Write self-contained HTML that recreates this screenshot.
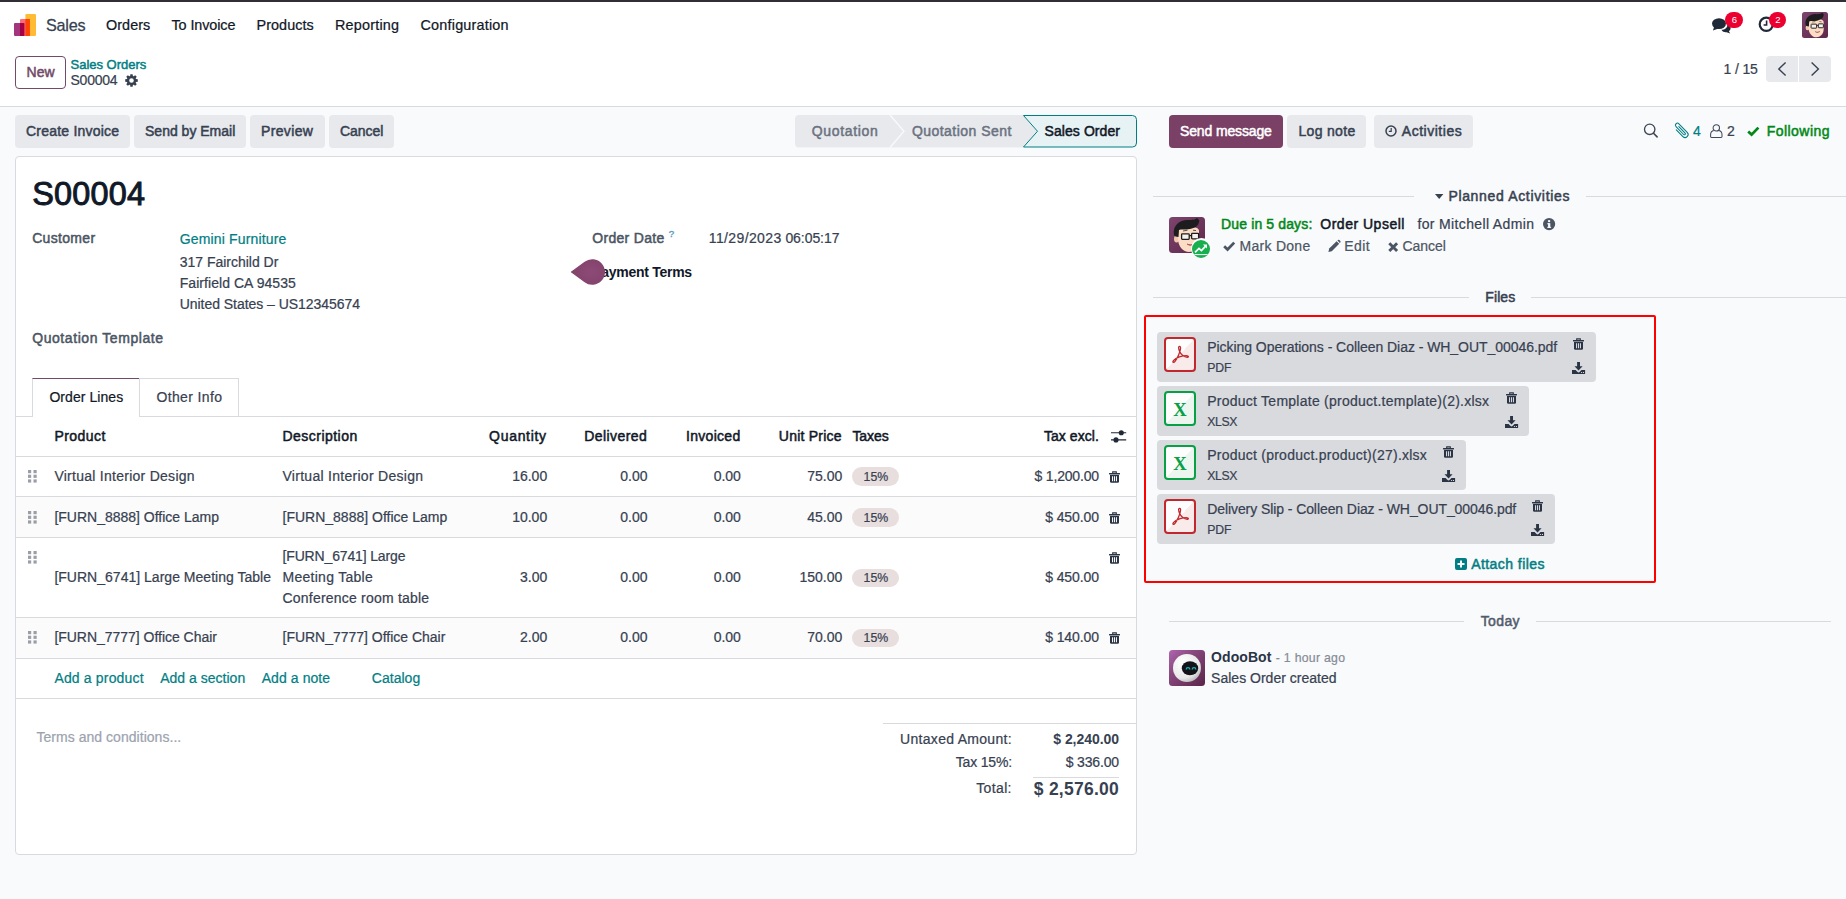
<!DOCTYPE html>
<html lang="en"><head><meta charset="utf-8"><title>Odoo - S00004</title>
<style>
html,body{margin:0;padding:0}
body{width:1846px;height:899px;overflow:hidden;position:relative;background:#f9fafb;font-family:"Liberation Sans",sans-serif;font-size:14px;color:#374151}
.t{position:absolute;white-space:nowrap;line-height:20px}
.b{position:absolute;box-sizing:border-box}
svg{position:absolute;overflow:visible}
.btn{background:#e7e9ed;border-radius:4px}
.ln{position:absolute;height:1px;background:#d8dadd}
.pill{position:absolute;background:#e7dedd;border-radius:10px}
.card{position:absolute;background:#d9dade;border-radius:4px;height:50px}

</style></head>
<body>
<div class="gfx" aria-hidden="true">
<div class="b" style="left:0px;top:0px;width:1846px;height:107px;background:#fff;border-bottom:1px solid #d8dadd"></div>
<div class="b" style="left:0px;top:0px;width:1846px;height:2px;background:#312f35"></div>
<svg style="left:14px;top:14px;" width="22" height="22" viewBox="0 0 22 22"><rect x="11.4" y="0" width="10.6" height="22" rx="1.2" fill="#ffbb33"/>
<rect x="6" y="5" width="9.9" height="17" rx="1" fill="#ff6b7a"/>
<rect x="11.4" y="5" width="4.5" height="17" fill="#ff4500"/>
<rect x="0" y="9.1" width="10.3" height="12.9" rx="1" fill="#a3357f"/>
<rect x="6" y="9.1" width="4.3" height="12.9" fill="#a50044"/></svg>
<svg style="left:1712px;top:17.5px;" width="19" height="15.5" viewBox="0 0 19 15.5"><ellipse cx="7" cy="5.6" rx="7" ry="5.4" fill="#1f2937"/><path d="M2.2 8.5 L1 12.6 L6.5 10.6 Z" fill="#1f2937"/>
<path d="M9.5 11.8 C13 11.6 15.6 9.4 15.6 6.4 C17.4 7.2 18.6 8.6 18.6 10.2 C18.6 11.4 17.9 12.4 16.9 13.2 L18.2 15.4 L14.6 14.2 C13 14.6 10.6 14 9.5 11.8 Z" fill="#1f2937"/></svg>
<div class="b" style="left:1725px;top:12px;width:18.2px;height:16px;background:#eb0030;border-radius:8px"></div>
<svg style="left:1758px;top:16px;" width="17" height="17" viewBox="0 0 17 17"><circle cx="8.3" cy="8.3" r="6.6" fill="none" stroke="#1f2937" stroke-width="2.2"/><path d="M8.6 4.6 V9 H5.6" fill="none" stroke="#1f2937" stroke-width="1.6"/></svg>
<div class="b" style="left:1769.4px;top:12px;width:16.8px;height:16px;background:#eb0030;border-radius:8px"></div>
<svg style="left:1802px;top:12px;" width="26" height="26" viewBox="0 0 36 36"><defs><linearGradient id="mg180212" x1="0" y1="0" x2="1" y2="1"><stop offset="0" stop-color="#7d456f"/><stop offset="1" stop-color="#5e2749"/></linearGradient>
<clipPath id="mc180212"><rect width="36" height="36" rx="3.5"/></clipPath></defs>
<g clip-path="url(#mc180212)"><rect width="36" height="36" fill="url(#mg180212)"/>
<ellipse cx="7.6" cy="22" rx="2.6" ry="3.4" fill="#f3c9ae"/>
<path d="M9 13 C9 8 30 8 30 14 L30 24 C30 31 25 35 20 35 C14 35 9 29 9 22 Z" fill="#fbdcc4"/>
<path d="M5 18 C3 8 12 2 20 3 C25 3 27 2 28 1 C29 2 31 3 30 5 C29 9 26 11 21 12 C16 13 12 12 10 13 L9.5 20 C7 20 5.5 19 5 18 Z" fill="#1d1d1f"/>
<rect x="12.6" y="16.8" width="7.6" height="5.6" rx="0.8" fill="#f4f1ee" stroke="#1d1d1f" stroke-width="1.3"/>
<rect x="22.6" y="16.4" width="7" height="5.4" rx="0.8" fill="#f4f1ee" stroke="#1d1d1f" stroke-width="1.3"/>
<path d="M20.2 18.6 H22.6" stroke="#1d1d1f" stroke-width="1.1"/>
<path d="M14 14 L18.5 13.2 M24 13.2 L27 13.6" stroke="#3a2a22" stroke-width="0.8" fill="none"/>
<path d="M18 27 C20 28.8 23 28.8 25 26.8 C23 28 20 28 18 27 Z" fill="#b5495b" stroke="#8a3a48" stroke-width="0.5"/>
</g></svg>
<div class="b" style="left:15px;top:56px;width:50.5px;height:32.5px;border:1px solid #714B67;border-radius:4px;background:#fff"></div>
<svg style="left:124.5px;top:73.5px;" width="13" height="13" viewBox="0 0 13 13"><path d="M11.02 5.10 L12.80 5.35 L12.80 7.65 L11.02 7.90 L10.69 8.71 L11.76 10.14 L10.14 11.76 L8.71 10.69 L7.90 11.02 L7.65 12.80 L5.35 12.80 L5.10 11.02 L4.29 10.69 L2.86 11.76 L1.24 10.14 L2.31 8.71 L1.98 7.90 L0.20 7.65 L0.20 5.35 L1.98 5.10 L2.31 4.29 L1.24 2.86 L2.86 1.24 L4.29 2.31 L5.10 1.98 L5.35 0.20 L7.65 0.20 L7.90 1.98 L8.71 2.31 L10.14 1.24 L11.76 2.86 L10.69 4.29 Z M8.80 6.50 A2.30 2.30 0 1 0 4.20 6.50 A2.30 2.30 0 1 0 8.80 6.50 Z" fill="#374151" fill-rule="evenodd"/></svg>
<div class="b" style="left:1766px;top:56px;width:32.3px;height:26px;background:#e7e9ed;border-radius:4px 0 0 4px"></div>
<div class="b" style="left:1799px;top:56px;width:32.3px;height:26px;background:#e7e9ed;border-radius:0 4px 4px 0"></div>
<svg style="left:1766px;top:56px;" width="66" height="26" viewBox="0 0 66 26"><path d="M19.6 6.6 L12.8 13 L19.6 19.6" fill="none" stroke="#374151" stroke-width="1.4"/><path d="M45.6 6.6 L52.4 13 L45.6 19.6" fill="none" stroke="#374151" stroke-width="1.4"/></svg>
<div class="b btn" style="left:15px;top:115px;width:115px;height:32.5px;"></div>
<div class="b btn" style="left:134px;top:115px;width:111.5px;height:32.5px;"></div>
<div class="b btn" style="left:250px;top:115px;width:74.5px;height:32.5px;"></div>
<div class="b btn" style="left:329px;top:115px;width:65px;height:32.5px;"></div>
<svg style="left:795px;top:115px;" width="342" height="32.5" viewBox="0 0 342 32.5"><path d="M4 0 H228 L242 16.25 L228 32.5 H4 a4 4 0 0 1 -4 -4 V4 a4 4 0 0 1 4 -4 Z" fill="#e7e9ed"/>
<path d="M95 0 L109 16.25 L95 32.5" fill="none" stroke="#f9fafb" stroke-width="1.3"/>
<path d="M228.5 0.5 H337.5 a4 4 0 0 1 4 4 V28 a4 4 0 0 1 -4 4 H228.5 L242.5 16.25 Z" fill="#e6f2f3" stroke="#017e84" stroke-width="1"/></svg>
<div class="b" style="left:15px;top:156px;width:1122px;height:698.5px;background:#fff;border:1px solid #d8dadd;border-radius:4px"></div>
<div class="ln" style="left:16px;top:416px;width:1120px;"></div>
<div class="b" style="left:32px;top:377.6px;width:107.5px;height:39.4px;background:#fff;border:1px solid #d8dadd;border-top:1.4px solid #714B67;border-bottom:none"></div>
<div class="b" style="left:139px;top:378px;width:100px;height:38.5px;border:1px solid #d8dadd;border-left:none;border-bottom:none"></div>
<div class="b" style="left:16px;top:497px;width:1120px;height:40px;background:#fbfbfb"></div>
<div class="b" style="left:16px;top:618px;width:1120px;height:40px;background:#fbfbfb"></div>
<div class="ln" style="left:16px;top:456px;width:1120px;"></div>
<div class="ln" style="left:16px;top:496px;width:1120px;"></div>
<div class="ln" style="left:16px;top:537px;width:1120px;"></div>
<div class="ln" style="left:16px;top:617px;width:1120px;"></div>
<div class="ln" style="left:16px;top:658px;width:1120px;"></div>
<div class="ln" style="left:16px;top:698px;width:1120px;"></div>
<svg style="left:28.3px;top:470.3px;" width="8.7" height="12.6" viewBox="0 0 8.7 12.6"><rect x="0" y="0" width="3.2" height="3.2" fill="#9a9ea7"/><rect x="0" y="4.7" width="3.2" height="3.2" fill="#9a9ea7"/><rect x="0" y="9.4" width="3.2" height="3.2" fill="#9a9ea7"/><rect x="5.5" y="0" width="3.2" height="3.2" fill="#9a9ea7"/><rect x="5.5" y="4.7" width="3.2" height="3.2" fill="#9a9ea7"/><rect x="5.5" y="9.4" width="3.2" height="3.2" fill="#9a9ea7"/></svg>
<svg style="left:28.3px;top:510.5px;" width="8.7" height="12.6" viewBox="0 0 8.7 12.6"><rect x="0" y="0" width="3.2" height="3.2" fill="#9a9ea7"/><rect x="0" y="4.7" width="3.2" height="3.2" fill="#9a9ea7"/><rect x="0" y="9.4" width="3.2" height="3.2" fill="#9a9ea7"/><rect x="5.5" y="0" width="3.2" height="3.2" fill="#9a9ea7"/><rect x="5.5" y="4.7" width="3.2" height="3.2" fill="#9a9ea7"/><rect x="5.5" y="9.4" width="3.2" height="3.2" fill="#9a9ea7"/></svg>
<svg style="left:28.3px;top:551.3px;" width="8.7" height="12.6" viewBox="0 0 8.7 12.6"><rect x="0" y="0" width="3.2" height="3.2" fill="#9a9ea7"/><rect x="0" y="4.7" width="3.2" height="3.2" fill="#9a9ea7"/><rect x="0" y="9.4" width="3.2" height="3.2" fill="#9a9ea7"/><rect x="5.5" y="0" width="3.2" height="3.2" fill="#9a9ea7"/><rect x="5.5" y="4.7" width="3.2" height="3.2" fill="#9a9ea7"/><rect x="5.5" y="9.4" width="3.2" height="3.2" fill="#9a9ea7"/></svg>
<svg style="left:28.3px;top:631.4px;" width="8.7" height="12.6" viewBox="0 0 8.7 12.6"><rect x="0" y="0" width="3.2" height="3.2" fill="#9a9ea7"/><rect x="0" y="4.7" width="3.2" height="3.2" fill="#9a9ea7"/><rect x="0" y="9.4" width="3.2" height="3.2" fill="#9a9ea7"/><rect x="5.5" y="0" width="3.2" height="3.2" fill="#9a9ea7"/><rect x="5.5" y="4.7" width="3.2" height="3.2" fill="#9a9ea7"/><rect x="5.5" y="9.4" width="3.2" height="3.2" fill="#9a9ea7"/></svg>
<svg style="left:1109.3px;top:471px;" width="11" height="11.8" viewBox="0 0 11 11.8"><path d="M3.7 2 V0.9 H7.3 V2" fill="none" stroke="#2b3445" stroke-width="1.1"/>
<rect x="0" y="1.9" width="11" height="1.5" rx="0.4" fill="#2b3445"/>
<path d="M1 3.9 H10 V10.4 a1.3 1.3 0 0 1 -1.3 1.3 H2.3 a1.3 1.3 0 0 1 -1.3 -1.3 Z" fill="#2b3445"/>
<path d="M3.55 5.2 V10.2 M5.5 5.2 V10.2 M7.45 5.2 V10.2" stroke="#fff" stroke-width="1.05"/></svg>
<svg style="left:1109.3px;top:512px;" width="11" height="11.8" viewBox="0 0 11 11.8"><path d="M3.7 2 V0.9 H7.3 V2" fill="none" stroke="#2b3445" stroke-width="1.1"/>
<rect x="0" y="1.9" width="11" height="1.5" rx="0.4" fill="#2b3445"/>
<path d="M1 3.9 H10 V10.4 a1.3 1.3 0 0 1 -1.3 1.3 H2.3 a1.3 1.3 0 0 1 -1.3 -1.3 Z" fill="#2b3445"/>
<path d="M3.55 5.2 V10.2 M5.5 5.2 V10.2 M7.45 5.2 V10.2" stroke="#fbfbfb" stroke-width="1.05"/></svg>
<svg style="left:1109.3px;top:552px;" width="11" height="11.8" viewBox="0 0 11 11.8"><path d="M3.7 2 V0.9 H7.3 V2" fill="none" stroke="#2b3445" stroke-width="1.1"/>
<rect x="0" y="1.9" width="11" height="1.5" rx="0.4" fill="#2b3445"/>
<path d="M1 3.9 H10 V10.4 a1.3 1.3 0 0 1 -1.3 1.3 H2.3 a1.3 1.3 0 0 1 -1.3 -1.3 Z" fill="#2b3445"/>
<path d="M3.55 5.2 V10.2 M5.5 5.2 V10.2 M7.45 5.2 V10.2" stroke="#fff" stroke-width="1.05"/></svg>
<svg style="left:1109.3px;top:632.3px;" width="11" height="11.8" viewBox="0 0 11 11.8"><path d="M3.7 2 V0.9 H7.3 V2" fill="none" stroke="#2b3445" stroke-width="1.1"/>
<rect x="0" y="1.9" width="11" height="1.5" rx="0.4" fill="#2b3445"/>
<path d="M1 3.9 H10 V10.4 a1.3 1.3 0 0 1 -1.3 1.3 H2.3 a1.3 1.3 0 0 1 -1.3 -1.3 Z" fill="#2b3445"/>
<path d="M3.55 5.2 V10.2 M5.5 5.2 V10.2 M7.45 5.2 V10.2" stroke="#fbfbfb" stroke-width="1.05"/></svg>
<svg style="left:1111px;top:429.6px;" width="15.2" height="12.6" viewBox="0 0 15.2 12.6"><path d="M0 2.7 H15.2 M0 9.9 H15.2" stroke="#1f2937" stroke-width="1.1"/><circle cx="10.3" cy="2.7" r="2.55" fill="#1f2937"/><circle cx="5" cy="9.9" r="2.55" fill="#1f2937"/></svg>
<div class="pill" style="left:852.4px;top:467.1px;width:46.4px;height:18.6px"></div>
<div class="pill" style="left:852.4px;top:508.4px;width:46.4px;height:18.6px"></div>
<div class="pill" style="left:852.4px;top:568.7px;width:46.4px;height:18.6px"></div>
<div class="pill" style="left:852.4px;top:628.5px;width:46.4px;height:18.6px"></div>
<div class="ln" style="left:883px;top:723px;width:253px;"></div>
<div class="ln" style="left:1033px;top:777px;width:86px;"></div>
<svg style="left:570px;top:258px;z-index:3;" width="35" height="28" viewBox="0 0 35 28"><defs><radialGradient id="bg1" cx="0.6" cy="0.5" r="0.6"><stop offset="0" stop-color="#8d4a78"/><stop offset="1" stop-color="#82426a"/></radialGradient></defs><path d="M0.6 14 L14.6 3.7 A12.8 12.8 0 1 1 14.6 24.3 Z" fill="url(#bg1)"/></svg>
<div class="b" style="left:1169px;top:115px;width:114px;height:32.5px;background:#7a4065;border-radius:4px"></div>
<div class="b btn" style="left:1287px;top:115px;width:79px;height:32.5px;"></div>
<div class="b btn" style="left:1374px;top:115px;width:99px;height:32.5px;"></div>
<svg style="left:1385px;top:125px;" width="12" height="12" viewBox="0 0 12 12"><circle cx="6" cy="6" r="5" fill="none" stroke="#374151" stroke-width="1.5"/><path d="M6.2 3 V6.4 H3.8" fill="none" stroke="#374151" stroke-width="1.2"/></svg>
<svg style="left:1642.9px;top:123.3px;" width="15" height="15" viewBox="0 0 15 15"><circle cx="6.7" cy="6.3" r="5.2" fill="none" stroke="#3f4858" stroke-width="1.35"/><path d="M10.5 10.2 L14.1 13.9" stroke="#3f4858" stroke-width="1.6" stroke-linecap="round"/></svg>
<svg style="left:1673.5px;top:122px;" width="16" height="17" viewBox="0 0 16 17"><g transform="translate(6.9 8.2) rotate(-44)"><path d="M1 -4 L1 5 A1 1 0 0 1 -1 5 L-1 -6 A2 2 0 0 1 3 -6 L3 6 A3 3 0 0 1 -3 6 L-3 -3.5" fill="none" stroke="#017e84" stroke-width="1.05" stroke-linecap="round"/></g></svg>
<svg style="left:1710.3px;top:124px;" width="12.6" height="14" viewBox="0 0 12.6 14"><circle cx="6.3" cy="3.9" r="3.2" fill="none" stroke="#414a5a" stroke-width="1.05"/><path d="M3.8 6.5 C1.9 6.9 0.6 8.4 0.6 10.8 V12.6 a0.9 0.9 0 0 0 0.9 0.9 H11.1 a0.9 0.9 0 0 0 0.9 -0.9 V10.8 C12 8.4 10.7 6.9 8.8 6.5" fill="none" stroke="#414a5a" stroke-width="1.05"/></svg>
<svg style="left:1747px;top:126px;" width="12.6" height="10.08" viewBox="0 0 12.6 10"><path d="M1.2 5.4 L4.6 8.6 L11.4 1.6" fill="none" stroke="#008818" stroke-width="2.8"/></svg>
<div class="ln" style="left:1153px;top:196px;width:261px;"></div>
<div class="ln" style="left:1586px;top:196px;width:260px;"></div>
<svg style="left:1435px;top:194px;" width="8.4" height="5" viewBox="0 0 8.4 5"><path d="M0 0 H8.4 L4.2 5 Z" fill="#374151"/></svg>
<svg style="left:1169px;top:217px;" width="36" height="36" viewBox="0 0 36 36"><defs><linearGradient id="mg1169217" x1="0" y1="0" x2="1" y2="1"><stop offset="0" stop-color="#7d456f"/><stop offset="1" stop-color="#5e2749"/></linearGradient>
<clipPath id="mc1169217"><rect width="36" height="36" rx="3.5"/></clipPath></defs>
<g clip-path="url(#mc1169217)"><rect width="36" height="36" fill="url(#mg1169217)"/>
<ellipse cx="7.6" cy="22" rx="2.6" ry="3.4" fill="#f3c9ae"/>
<path d="M9 13 C9 8 30 8 30 14 L30 24 C30 31 25 35 20 35 C14 35 9 29 9 22 Z" fill="#fbdcc4"/>
<path d="M5 18 C3 8 12 2 20 3 C25 3 27 2 28 1 C29 2 31 3 30 5 C29 9 26 11 21 12 C16 13 12 12 10 13 L9.5 20 C7 20 5.5 19 5 18 Z" fill="#1d1d1f"/>
<rect x="12.6" y="16.8" width="7.6" height="5.6" rx="0.8" fill="#f4f1ee" stroke="#1d1d1f" stroke-width="1.3"/>
<rect x="22.6" y="16.4" width="7" height="5.4" rx="0.8" fill="#f4f1ee" stroke="#1d1d1f" stroke-width="1.3"/>
<path d="M20.2 18.6 H22.6" stroke="#1d1d1f" stroke-width="1.1"/>
<path d="M14 14 L18.5 13.2 M24 13.2 L27 13.6" stroke="#3a2a22" stroke-width="0.8" fill="none"/>
<path d="M18 27 C20 28.8 23 28.8 25 26.8 C23 28 20 28 18 27 Z" fill="#b5495b" stroke="#8a3a48" stroke-width="0.5"/>
</g></svg>
<div class="b" style="left:1190.5px;top:238px;width:21px;height:21px;background:#fff;border-radius:50%"></div>
<div class="b" style="left:1192px;top:239.5px;width:18px;height:18px;background:#18b04e;border-radius:50%"></div>
<svg style="left:1192px;top:239.5px;" width="18" height="18" viewBox="0 0 18 18"><path d="M3 12.4 L7 8.4 L9.4 10.6 L13.4 6.4" fill="none" stroke="#fff" stroke-width="1.8"/><path d="M11 4.6 H15 V8.6 Z" fill="#fff"/><path d="M2.4 14.6 H15.6" stroke="#fff" stroke-width="1"/></svg>
<svg style="left:1542.5px;top:218px;" width="12.2" height="12.2" viewBox="0 0 12.2 12.2"><circle cx="6.1" cy="6.1" r="6.1" fill="#4b5563"/><rect x="5.1" y="5.2" width="2.2" height="4.6" fill="#f9fafb"/><rect x="4.3" y="5.2" width="2" height="1.1" fill="#f9fafb"/><rect x="4.3" y="8.8" width="3.8" height="1.1" fill="#f9fafb"/><circle cx="6.1" cy="3.1" r="1.2" fill="#f9fafb"/></svg>
<svg style="left:1222.6px;top:240.5px;" width="12.4" height="9.920000000000002" viewBox="0 0 12.6 10"><path d="M1.2 5.4 L4.6 8.6 L11.4 1.6" fill="none" stroke="#4b5563" stroke-width="2.8"/></svg>
<svg style="left:1328px;top:240px;" width="12.4" height="12.4" viewBox="0 0 12.4 12.4"><path d="M0.4 12 L1.2 8.6 L8.6 1.2 L11.2 3.8 L3.8 11.2 Z" fill="#4b5563"/><path d="M9.4 0.5 L10 0 a1 1 0 0 1 1.4 0 L12.3 1 a1 1 0 0 1 0 1.4 L11.9 3 Z" fill="#4b5563"/></svg>
<svg style="left:1388px;top:241.5px;" width="10.4" height="10.4" viewBox="0 0 10.4 10.4"><path d="M1.3 1.3 L9.1 9.1 M9.1 1.3 L1.3 9.1" stroke="#4b5563" stroke-width="2.9"/></svg>
<div class="ln" style="left:1153px;top:297px;width:316px;"></div>
<div class="ln" style="left:1531px;top:297px;width:315px;"></div>
<div class="b" style="left:1144px;top:315px;width:512px;height:267.5px;border:2px solid #ff0000;border-radius:2px"></div>
<div class="card" style="left:1157px;top:332px;width:439px"></div>
<svg style="left:1164px;top:337px;" width="32" height="35" viewBox="0 0 32 35"><defs><linearGradient id="fg0" x1="0" y1="0" x2="1" y2="1"><stop offset="0.5" stop-color="#fdfdfd"/><stop offset="0.5" stop-color="#f9ebea"/></linearGradient></defs>
<rect x="1" y="1" width="30" height="33" rx="3" fill="url(#fg0)" stroke="#c1272d" stroke-width="2"/><path d="M15.6 9.4 C14.2 9.2 14.4 12 15.8 14.8 C16.8 17 19.6 19.6 22.6 20.2 C25 20.6 25 18.6 22.4 18.6 C18.4 18.6 12 20.6 9.6 23.4 C8 25.4 9.6 26.2 11 24.4 C13.6 21 16.4 14.4 16.6 11 C16.7 9.9 16.2 9.5 15.6 9.4 Z" fill="none" stroke="#c1272d" stroke-width="1.3" stroke-linejoin="round"/></svg>
<svg style="left:1573.4px;top:337.8px;" width="11" height="11.8" viewBox="0 0 11 11.8"><path d="M3.7 2 V0.9 H7.3 V2" fill="none" stroke="#2b3445" stroke-width="1.1"/>
<rect x="0" y="1.9" width="11" height="1.5" rx="0.4" fill="#2b3445"/>
<path d="M1 3.9 H10 V10.4 a1.3 1.3 0 0 1 -1.3 1.3 H2.3 a1.3 1.3 0 0 1 -1.3 -1.3 Z" fill="#2b3445"/>
<path d="M3.55 5.2 V10.2 M5.5 5.2 V10.2 M7.45 5.2 V10.2" stroke="#d9dade" stroke-width="1.05"/></svg>
<svg style="left:1572.1px;top:361.9px;" width="13.1" height="12" viewBox="0 0 13.1 12"><path d="M5.1 0 H8 V4.3 H10.6 L6.55 8.4 L2.5 4.3 H5.1 Z" fill="#2b3445"/>
<path d="M0 8.1 H3.6 L5.3 9.8 a1.8 1.8 0 0 0 2.5 0 L9.5 8.1 H13.1 V12 H0 Z" fill="#2b3445"/>
<rect x="9.1" y="10" width="1" height="1" fill="#d9dade"/><rect x="11" y="10" width="1" height="1" fill="#d9dade"/></svg>
<div class="card" style="left:1157px;top:386px;width:372px"></div>
<svg style="left:1164px;top:391px;" width="32" height="35" viewBox="0 0 32 35"><defs><linearGradient id="fg1" x1="0" y1="0" x2="1" y2="1"><stop offset="0.5" stop-color="#fdfdfd"/><stop offset="0.5" stop-color="#ecf6ef"/></linearGradient></defs>
<rect x="1" y="1" width="30" height="33" rx="3" fill="url(#fg1)" stroke="#08a045" stroke-width="2"/><text x="16" y="25.4" text-anchor="middle" font-family="Liberation Serif, serif" font-weight="700" font-size="18.6" fill="#08a045">X</text></svg>
<svg style="left:1506.4px;top:391.8px;" width="11" height="11.8" viewBox="0 0 11 11.8"><path d="M3.7 2 V0.9 H7.3 V2" fill="none" stroke="#2b3445" stroke-width="1.1"/>
<rect x="0" y="1.9" width="11" height="1.5" rx="0.4" fill="#2b3445"/>
<path d="M1 3.9 H10 V10.4 a1.3 1.3 0 0 1 -1.3 1.3 H2.3 a1.3 1.3 0 0 1 -1.3 -1.3 Z" fill="#2b3445"/>
<path d="M3.55 5.2 V10.2 M5.5 5.2 V10.2 M7.45 5.2 V10.2" stroke="#d9dade" stroke-width="1.05"/></svg>
<svg style="left:1505.1px;top:415.9px;" width="13.1" height="12" viewBox="0 0 13.1 12"><path d="M5.1 0 H8 V4.3 H10.6 L6.55 8.4 L2.5 4.3 H5.1 Z" fill="#2b3445"/>
<path d="M0 8.1 H3.6 L5.3 9.8 a1.8 1.8 0 0 0 2.5 0 L9.5 8.1 H13.1 V12 H0 Z" fill="#2b3445"/>
<rect x="9.1" y="10" width="1" height="1" fill="#d9dade"/><rect x="11" y="10" width="1" height="1" fill="#d9dade"/></svg>
<div class="card" style="left:1157px;top:440px;width:309px"></div>
<svg style="left:1164px;top:445px;" width="32" height="35" viewBox="0 0 32 35"><defs><linearGradient id="fg2" x1="0" y1="0" x2="1" y2="1"><stop offset="0.5" stop-color="#fdfdfd"/><stop offset="0.5" stop-color="#ecf6ef"/></linearGradient></defs>
<rect x="1" y="1" width="30" height="33" rx="3" fill="url(#fg2)" stroke="#08a045" stroke-width="2"/><text x="16" y="25.4" text-anchor="middle" font-family="Liberation Serif, serif" font-weight="700" font-size="18.6" fill="#08a045">X</text></svg>
<svg style="left:1443.4px;top:445.8px;" width="11" height="11.8" viewBox="0 0 11 11.8"><path d="M3.7 2 V0.9 H7.3 V2" fill="none" stroke="#2b3445" stroke-width="1.1"/>
<rect x="0" y="1.9" width="11" height="1.5" rx="0.4" fill="#2b3445"/>
<path d="M1 3.9 H10 V10.4 a1.3 1.3 0 0 1 -1.3 1.3 H2.3 a1.3 1.3 0 0 1 -1.3 -1.3 Z" fill="#2b3445"/>
<path d="M3.55 5.2 V10.2 M5.5 5.2 V10.2 M7.45 5.2 V10.2" stroke="#d9dade" stroke-width="1.05"/></svg>
<svg style="left:1442.1px;top:469.9px;" width="13.1" height="12" viewBox="0 0 13.1 12"><path d="M5.1 0 H8 V4.3 H10.6 L6.55 8.4 L2.5 4.3 H5.1 Z" fill="#2b3445"/>
<path d="M0 8.1 H3.6 L5.3 9.8 a1.8 1.8 0 0 0 2.5 0 L9.5 8.1 H13.1 V12 H0 Z" fill="#2b3445"/>
<rect x="9.1" y="10" width="1" height="1" fill="#d9dade"/><rect x="11" y="10" width="1" height="1" fill="#d9dade"/></svg>
<div class="card" style="left:1157px;top:494px;width:398px"></div>
<svg style="left:1164px;top:499px;" width="32" height="35" viewBox="0 0 32 35"><defs><linearGradient id="fg3" x1="0" y1="0" x2="1" y2="1"><stop offset="0.5" stop-color="#fdfdfd"/><stop offset="0.5" stop-color="#f9ebea"/></linearGradient></defs>
<rect x="1" y="1" width="30" height="33" rx="3" fill="url(#fg3)" stroke="#c1272d" stroke-width="2"/><path d="M15.6 9.4 C14.2 9.2 14.4 12 15.8 14.8 C16.8 17 19.6 19.6 22.6 20.2 C25 20.6 25 18.6 22.4 18.6 C18.4 18.6 12 20.6 9.6 23.4 C8 25.4 9.6 26.2 11 24.4 C13.6 21 16.4 14.4 16.6 11 C16.7 9.9 16.2 9.5 15.6 9.4 Z" fill="none" stroke="#c1272d" stroke-width="1.3" stroke-linejoin="round"/></svg>
<svg style="left:1532.4px;top:499.8px;" width="11" height="11.8" viewBox="0 0 11 11.8"><path d="M3.7 2 V0.9 H7.3 V2" fill="none" stroke="#2b3445" stroke-width="1.1"/>
<rect x="0" y="1.9" width="11" height="1.5" rx="0.4" fill="#2b3445"/>
<path d="M1 3.9 H10 V10.4 a1.3 1.3 0 0 1 -1.3 1.3 H2.3 a1.3 1.3 0 0 1 -1.3 -1.3 Z" fill="#2b3445"/>
<path d="M3.55 5.2 V10.2 M5.5 5.2 V10.2 M7.45 5.2 V10.2" stroke="#d9dade" stroke-width="1.05"/></svg>
<svg style="left:1531.1px;top:523.9px;" width="13.1" height="12" viewBox="0 0 13.1 12"><path d="M5.1 0 H8 V4.3 H10.6 L6.55 8.4 L2.5 4.3 H5.1 Z" fill="#2b3445"/>
<path d="M0 8.1 H3.6 L5.3 9.8 a1.8 1.8 0 0 0 2.5 0 L9.5 8.1 H13.1 V12 H0 Z" fill="#2b3445"/>
<rect x="9.1" y="10" width="1" height="1" fill="#d9dade"/><rect x="11" y="10" width="1" height="1" fill="#d9dade"/></svg>
<svg style="left:1455px;top:558px;" width="12" height="12" viewBox="0 0 12 12"><rect width="12" height="12" rx="1.9" fill="#017e84"/><path d="M6 2.5 V9.5 M2.5 6 H9.5" stroke="#f9fafb" stroke-width="2"/></svg>
<div class="ln" style="left:1169px;top:621px;width:295px;"></div>
<div class="ln" style="left:1536px;top:621px;width:295px;"></div>
<svg style="left:1169px;top:650px;" width="36" height="36" viewBox="0 0 36 36"><defs><linearGradient id="ob" x1="0" y1="0" x2="1" y2="1"><stop offset="0" stop-color="#b066b0"/><stop offset="0.35" stop-color="#8a4a80"/><stop offset="1" stop-color="#5a2348"/></linearGradient>
<radialGradient id="obw" cx="0.35" cy="0.3" r="0.8"><stop offset="0" stop-color="#ffffff"/><stop offset="0.7" stop-color="#e9e9e9"/><stop offset="1" stop-color="#a9aeb0"/></radialGradient></defs>
<rect width="36" height="36" rx="3.5" fill="url(#ob)"/><circle cx="18" cy="18" r="14" fill="url(#obw)"/>
<ellipse cx="21" cy="18.2" rx="8.2" ry="7" fill="#15131a"/>
<path d="M17.2 19.4 a1.8 1.8 0 0 1 3.6 0" fill="none" stroke="#12b5b0" stroke-width="1.3"/><path d="M23.2 19.4 a1.8 1.8 0 0 1 3.6 0" fill="none" stroke="#12b5b0" stroke-width="1.3"/></svg>
</div>
<nav aria-label="Main menu">
<span class="t" style="top:14.89px;font-size:16.2px;-webkit-text-stroke:0.26px #374151;color:#374151;left:46.0px;letter-spacing:-0.240px;">Sales</span>
<span class="t" style="top:15.01px;font-size:14.4px;-webkit-text-stroke:0.23px #111827;color:#111827;left:106.0px;letter-spacing:0.053px;">Orders</span>
<span class="t" style="top:15.01px;font-size:14.4px;-webkit-text-stroke:0.23px #111827;color:#111827;left:171.5px;letter-spacing:-0.100px;">To Invoice</span>
<span class="t" style="top:15.01px;font-size:14.4px;-webkit-text-stroke:0.23px #111827;color:#111827;left:256.5px;letter-spacing:0.063px;">Products</span>
<span class="t" style="top:15.01px;font-size:14.4px;-webkit-text-stroke:0.23px #111827;color:#111827;left:335.0px;letter-spacing:0.210px;">Reporting</span>
<span class="t" style="top:15.01px;font-size:14.4px;-webkit-text-stroke:0.23px #111827;color:#111827;left:420.5px;letter-spacing:0.207px;">Configuration</span>
<span class="t" style="top:9.67px;font-size:9.6px;color:#fff;left:1731.7px;letter-spacing:-0.544px;">6</span>
<span class="t" style="top:9.67px;font-size:9.6px;color:#fff;left:1775.3px;letter-spacing:-0.844px;">2</span>
</nav>
<header class="control-panel">
<span class="t" style="top:62.15px;font-size:14px;-webkit-text-stroke:0.50px #714B67;color:#714B67;left:26.5px;letter-spacing:0.095px;">New</span>
<span class="t" style="top:54.50px;font-size:13px;-webkit-text-stroke:0.47px #017e84;color:#017e84;left:70.5px;letter-spacing:-0.006px;">Sales Orders</span>
<span class="t" style="top:70.15px;font-size:14px;-webkit-text-stroke:0.22px #374151;color:#374151;left:70.5px;letter-spacing:-0.247px;">S00004</span>
<span class="t" style="top:58.85px;font-size:14px;-webkit-text-stroke:0.22px #374151;color:#374151;left:1723.5px;letter-spacing:-0.139px;">1 / 15</span>
</header>
<section class="statusbar" aria-label="Actions">
<span class="t" style="top:121.15px;font-size:14px;-webkit-text-stroke:0.50px #374151;color:#374151;left:26.0px;letter-spacing:0.216px;">Create Invoice</span>
<span class="t" style="top:121.15px;font-size:14px;-webkit-text-stroke:0.50px #374151;color:#374151;left:145.0px;letter-spacing:0.001px;">Send by Email</span>
<span class="t" style="top:121.15px;font-size:14px;-webkit-text-stroke:0.50px #374151;color:#374151;left:261.0px;letter-spacing:0.358px;">Preview</span>
<span class="t" style="top:121.15px;font-size:14px;-webkit-text-stroke:0.50px #374151;color:#374151;left:340.0px;letter-spacing:-0.049px;">Cancel</span>
<span class="t" style="top:121.15px;font-size:14px;-webkit-text-stroke:0.50px #6b7280;color:#6b7280;left:811.7px;letter-spacing:0.676px;">Quotation</span>
<span class="t" style="top:121.15px;font-size:14px;-webkit-text-stroke:0.50px #6b7280;color:#6b7280;left:911.9px;letter-spacing:0.464px;">Quotation Sent</span>
<span class="t" style="top:121.15px;font-size:14px;-webkit-text-stroke:0.50px #111827;color:#111827;left:1044.6px;letter-spacing:0.063px;">Sales Order</span>
</section>
<main class="sheet">
<span class="t" style="top:183.97px;font-size:32.4px;-webkit-text-stroke:0.97px #111827;color:#111827;left:32.2px;letter-spacing:0.252px;">S00004</span>
<span class="t" style="top:227.75px;font-size:14px;-webkit-text-stroke:0.50px #4b5563;color:#4b5563;left:32.2px;letter-spacing:0.314px;">Customer</span>
<span class="t" style="top:228.55px;font-size:14px;-webkit-text-stroke:0.22px #017e84;color:#017e84;left:179.7px;letter-spacing:0.158px;">Gemini Furniture</span>
<span class="t" style="top:251.55px;font-size:14px;-webkit-text-stroke:0.22px #374151;color:#374151;left:179.7px;letter-spacing:-0.008px;">317 Fairchild Dr</span>
<span class="t" style="top:272.65px;font-size:14px;-webkit-text-stroke:0.22px #374151;color:#374151;left:179.7px;letter-spacing:0.056px;">Fairfield CA 94535</span>
<span class="t" style="top:293.65px;font-size:14px;-webkit-text-stroke:0.22px #374151;color:#374151;left:179.7px;letter-spacing:-0.037px;">United States – US12345674</span>
<span class="t" style="top:327.95px;font-size:14px;-webkit-text-stroke:0.50px #4b5563;color:#4b5563;left:32.2px;letter-spacing:0.569px;">Quotation Template</span>
<span class="t" style="top:227.95px;font-size:14px;-webkit-text-stroke:0.50px #4b5563;color:#4b5563;left:592.2px;letter-spacing:0.325px;">Order Date</span>
<span class="t" style="top:224.40px;font-size:9.8px;-webkit-text-stroke:0.35px #5b9bc4;color:#5b9bc4;left:668.8px;letter-spacing:-0.453px;">?</span>
<span class="t" style="top:227.95px;font-size:14px;-webkit-text-stroke:0.22px #374151;color:#374151;left:708.8px;letter-spacing:0.377px;">11/29/2023</span>
<span class="t" style="top:227.95px;font-size:14px;-webkit-text-stroke:0.22px #374151;color:#374151;left:785.4px;letter-spacing:-0.062px;">06:05:17</span>
<span class="t" style="top:261.55px;font-size:14px;font-weight:700;color:#111827;left:592.2px;letter-spacing:-0.272px;">Payment Terms</span>
<span class="t" style="top:387.05px;font-size:14px;-webkit-text-stroke:0.22px #111827;color:#111827;left:49.4px;letter-spacing:0.059px;">Order Lines</span>
<span class="t" style="top:387.05px;font-size:14px;-webkit-text-stroke:0.22px #374151;color:#374151;left:156.5px;letter-spacing:0.353px;">Other Info</span>
<span class="t" style="top:426.05px;font-size:14px;-webkit-text-stroke:0.50px #111827;color:#111827;left:54.4px;letter-spacing:0.450px;">Product</span>
<span class="t" style="top:426.05px;font-size:14px;-webkit-text-stroke:0.50px #111827;color:#111827;left:282.5px;letter-spacing:0.470px;">Description</span>
<span class="t" style="top:426.05px;font-size:14px;-webkit-text-stroke:0.50px #111827;color:#111827;left:489.1px;letter-spacing:0.695px;">Quantity</span>
<span class="t" style="top:426.05px;font-size:14px;-webkit-text-stroke:0.50px #111827;color:#111827;left:584.3px;letter-spacing:0.407px;">Delivered</span>
<span class="t" style="top:426.05px;font-size:14px;-webkit-text-stroke:0.50px #111827;color:#111827;left:686.1px;letter-spacing:0.280px;">Invoiced</span>
<span class="t" style="top:426.05px;font-size:14px;-webkit-text-stroke:0.50px #111827;color:#111827;left:778.8px;letter-spacing:0.241px;">Unit Price</span>
<span class="t" style="top:426.05px;font-size:14px;-webkit-text-stroke:0.50px #111827;color:#111827;left:852.4px;letter-spacing:-0.076px;">Taxes</span>
<span class="t" style="top:426.05px;font-size:14px;-webkit-text-stroke:0.50px #111827;color:#111827;left:1043.9px;letter-spacing:0.059px;">Tax excl.</span>
<span class="t" style="top:465.65px;font-size:14px;-webkit-text-stroke:0.22px #374151;color:#374151;left:54.4px;letter-spacing:0.266px;">Virtual Interior Design</span>
<span class="t" style="top:465.65px;font-size:14px;-webkit-text-stroke:0.22px #374151;color:#374151;left:282.5px;letter-spacing:0.279px;">Virtual Interior Design</span>
<span class="t" style="top:465.65px;font-size:14px;-webkit-text-stroke:0.22px #374151;color:#374151;right:1298.8px;">16.00</span>
<span class="t" style="top:465.65px;font-size:14px;-webkit-text-stroke:0.22px #374151;color:#374151;right:1198.5px;">0.00</span>
<span class="t" style="top:465.65px;font-size:14px;-webkit-text-stroke:0.22px #374151;color:#374151;right:1105.1px;">0.00</span>
<span class="t" style="top:465.65px;font-size:14px;-webkit-text-stroke:0.22px #374151;color:#374151;right:1003.7px;">75.00</span>
<span class="t" style="top:466.64px;font-size:12.3px;-webkit-text-stroke:0.20px #374151;color:#374151;left:863.5px;letter-spacing:0.058px;">15%</span>
<span class="t" style="top:465.65px;font-size:14px;-webkit-text-stroke:0.22px #374151;color:#374151;left:1034.5px;letter-spacing:-0.177px;">$ 1,200.00</span>
<span class="t" style="top:506.65px;font-size:14px;-webkit-text-stroke:0.22px #374151;color:#374151;left:54.4px;letter-spacing:-0.005px;">[FURN_8888] Office Lamp</span>
<span class="t" style="top:506.65px;font-size:14px;-webkit-text-stroke:0.22px #374151;color:#374151;left:282.5px;letter-spacing:0.004px;">[FURN_8888] Office Lamp</span>
<span class="t" style="top:506.65px;font-size:14px;-webkit-text-stroke:0.22px #374151;color:#374151;right:1298.8px;">10.00</span>
<span class="t" style="top:506.65px;font-size:14px;-webkit-text-stroke:0.22px #374151;color:#374151;right:1198.5px;">0.00</span>
<span class="t" style="top:506.65px;font-size:14px;-webkit-text-stroke:0.22px #374151;color:#374151;right:1105.1px;">0.00</span>
<span class="t" style="top:506.65px;font-size:14px;-webkit-text-stroke:0.22px #374151;color:#374151;right:1003.7px;">45.00</span>
<span class="t" style="top:507.64px;font-size:12.3px;-webkit-text-stroke:0.20px #374151;color:#374151;left:863.5px;letter-spacing:0.058px;">15%</span>
<span class="t" style="top:506.65px;font-size:14px;-webkit-text-stroke:0.22px #374151;color:#374151;left:1045.2px;letter-spacing:-0.100px;">$ 450.00</span>
<span class="t" style="top:567.45px;font-size:14px;-webkit-text-stroke:0.22px #374151;color:#374151;left:54.4px;letter-spacing:0.016px;">[FURN_6741] Large Meeting Table</span>
<span class="t" style="top:567.45px;font-size:14px;-webkit-text-stroke:0.22px #374151;color:#374151;right:1298.8px;">3.00</span>
<span class="t" style="top:567.45px;font-size:14px;-webkit-text-stroke:0.22px #374151;color:#374151;right:1198.5px;">0.00</span>
<span class="t" style="top:567.45px;font-size:14px;-webkit-text-stroke:0.22px #374151;color:#374151;right:1105.1px;">0.00</span>
<span class="t" style="top:567.45px;font-size:14px;-webkit-text-stroke:0.22px #374151;color:#374151;right:1003.7px;">150.00</span>
<span class="t" style="top:568.44px;font-size:12.3px;-webkit-text-stroke:0.20px #374151;color:#374151;left:863.5px;letter-spacing:0.058px;">15%</span>
<span class="t" style="top:567.45px;font-size:14px;-webkit-text-stroke:0.22px #374151;color:#374151;left:1045.2px;letter-spacing:-0.100px;">$ 450.00</span>
<span class="t" style="top:626.95px;font-size:14px;-webkit-text-stroke:0.22px #374151;color:#374151;left:54.4px;letter-spacing:-0.027px;">[FURN_7777] Office Chair</span>
<span class="t" style="top:626.95px;font-size:14px;-webkit-text-stroke:0.22px #374151;color:#374151;left:282.5px;letter-spacing:-0.014px;">[FURN_7777] Office Chair</span>
<span class="t" style="top:626.95px;font-size:14px;-webkit-text-stroke:0.22px #374151;color:#374151;right:1298.8px;">2.00</span>
<span class="t" style="top:626.95px;font-size:14px;-webkit-text-stroke:0.22px #374151;color:#374151;right:1198.5px;">0.00</span>
<span class="t" style="top:626.95px;font-size:14px;-webkit-text-stroke:0.22px #374151;color:#374151;right:1105.1px;">0.00</span>
<span class="t" style="top:626.95px;font-size:14px;-webkit-text-stroke:0.22px #374151;color:#374151;right:1003.7px;">70.00</span>
<span class="t" style="top:627.94px;font-size:12.3px;-webkit-text-stroke:0.20px #374151;color:#374151;left:863.5px;letter-spacing:0.058px;">15%</span>
<span class="t" style="top:626.95px;font-size:14px;-webkit-text-stroke:0.22px #374151;color:#374151;left:1045.2px;letter-spacing:-0.100px;">$ 140.00</span>
<span class="t" style="top:545.65px;font-size:14px;-webkit-text-stroke:0.22px #374151;color:#374151;left:282.5px;letter-spacing:-0.147px;">[FURN_6741] Large</span>
<span class="t" style="top:567.45px;font-size:14px;-webkit-text-stroke:0.22px #374151;color:#374151;left:282.5px;letter-spacing:0.275px;">Meeting Table</span>
<span class="t" style="top:588.25px;font-size:14px;-webkit-text-stroke:0.22px #374151;color:#374151;left:282.5px;letter-spacing:0.208px;">Conference room table</span>
<span class="t" style="top:668.25px;font-size:14px;-webkit-text-stroke:0.22px #017e84;color:#017e84;left:54.4px;letter-spacing:0.164px;">Add a product</span>
<span class="t" style="top:668.25px;font-size:14px;-webkit-text-stroke:0.22px #017e84;color:#017e84;left:160.2px;letter-spacing:0.012px;">Add a section</span>
<span class="t" style="top:668.25px;font-size:14px;-webkit-text-stroke:0.22px #017e84;color:#017e84;left:261.7px;letter-spacing:0.077px;">Add a note</span>
<span class="t" style="top:668.25px;font-size:14px;-webkit-text-stroke:0.22px #017e84;color:#017e84;left:371.8px;letter-spacing:0.019px;">Catalog</span>
<span class="t" style="top:726.75px;font-size:14px;-webkit-text-stroke:0.22px #9ca3af;color:#9ca3af;left:36.4px;letter-spacing:0.040px;">Terms and conditions...</span>
<span class="t" style="top:728.85px;font-size:14px;-webkit-text-stroke:0.22px #374151;color:#374151;left:900.1px;letter-spacing:0.293px;">Untaxed Amount:</span>
<span class="t" style="top:728.85px;font-size:14px;font-weight:700;color:#374151;left:1053.3px;letter-spacing:-0.047px;">$ 2,240.00</span>
<span class="t" style="top:751.85px;font-size:14px;-webkit-text-stroke:0.22px #374151;color:#374151;left:955.7px;letter-spacing:-0.174px;">Tax 15%:</span>
<span class="t" style="top:751.85px;font-size:14px;-webkit-text-stroke:0.22px #374151;color:#374151;left:1065.7px;letter-spacing:-0.150px;">$ 336.00</span>
<span class="t" style="top:777.85px;font-size:14px;-webkit-text-stroke:0.22px #374151;color:#374151;left:976.2px;letter-spacing:0.372px;">Total:</span>
<span class="t" style="top:778.54px;font-size:17.5px;font-weight:700;color:#374151;left:1033.8px;letter-spacing:0.248px;">$ 2,576.00</span>
</main>
<aside class="chatter">
<span class="t" style="top:121.15px;font-size:14px;-webkit-text-stroke:0.50px #fff;color:#fff;left:1180.0px;letter-spacing:-0.142px;">Send message</span>
<span class="t" style="top:121.15px;font-size:14px;-webkit-text-stroke:0.50px #374151;color:#374151;left:1298.5px;letter-spacing:0.313px;">Log note</span>
<span class="t" style="top:121.15px;font-size:14px;-webkit-text-stroke:0.50px #374151;color:#374151;left:1401.8px;letter-spacing:0.517px;">Activities</span>
<span class="t" style="top:121.35px;font-size:14px;-webkit-text-stroke:0.22px #017e84;color:#017e84;left:1693.0px;letter-spacing:-0.197px;">4</span>
<span class="t" style="top:121.35px;font-size:14px;-webkit-text-stroke:0.22px #374151;color:#374151;left:1726.9px;letter-spacing:-0.397px;">2</span>
<span class="t" style="top:121.35px;font-size:14px;-webkit-text-stroke:0.50px #008818;color:#008818;left:1766.8px;letter-spacing:0.440px;">Following</span>
<span class="t" style="top:185.65px;font-size:14px;-webkit-text-stroke:0.50px #374151;color:#374151;left:1448.4px;letter-spacing:0.665px;">Planned Activities</span>
<span class="t" style="top:214.05px;font-size:14px;-webkit-text-stroke:0.50px #008818;color:#008818;left:1221.1px;letter-spacing:0.129px;">Due in 5 days:</span>
<span class="t" style="top:214.05px;font-size:14px;-webkit-text-stroke:0.50px #111827;color:#111827;left:1320.3px;letter-spacing:0.501px;">Order Upsell</span>
<span class="t" style="top:214.05px;font-size:14px;-webkit-text-stroke:0.22px #374151;color:#374151;left:1417.4px;letter-spacing:0.356px;">for Mitchell Admin</span>
<span class="t" style="top:235.85px;font-size:14px;-webkit-text-stroke:0.22px #4b5563;color:#4b5563;left:1239.5px;letter-spacing:0.281px;">Mark Done</span>
<span class="t" style="top:235.85px;font-size:14px;-webkit-text-stroke:0.22px #4b5563;color:#4b5563;left:1344.3px;letter-spacing:0.369px;">Edit</span>
<span class="t" style="top:235.85px;font-size:14px;-webkit-text-stroke:0.22px #4b5563;color:#4b5563;left:1402.6px;letter-spacing:-0.082px;">Cancel</span>
<span class="t" style="top:286.65px;font-size:14px;-webkit-text-stroke:0.50px #374151;color:#374151;left:1485.3px;letter-spacing:0.088px;">Files</span>
<span class="t" style="top:336.85px;font-size:14px;-webkit-text-stroke:0.22px #374151;color:#374151;left:1207.2px;letter-spacing:-0.050px;">Picking Operations - Colleen Diaz - WH_OUT_00046.pdf</span>
<span class="t" style="top:358.26px;font-size:12.25px;-webkit-text-stroke:0.20px #374151;color:#374151;left:1207.2px;letter-spacing:-0.067px;">PDF</span>
<span class="t" style="top:390.85px;font-size:14px;-webkit-text-stroke:0.22px #374151;color:#374151;left:1207.2px;letter-spacing:0.253px;">Product Template (product.template)(2).xlsx</span>
<span class="t" style="top:412.26px;font-size:12.25px;-webkit-text-stroke:0.20px #374151;color:#374151;left:1207.2px;letter-spacing:-0.332px;">XLSX</span>
<span class="t" style="top:444.85px;font-size:14px;-webkit-text-stroke:0.22px #374151;color:#374151;left:1207.2px;letter-spacing:0.243px;">Product (product.product)(27).xlsx</span>
<span class="t" style="top:466.26px;font-size:12.25px;-webkit-text-stroke:0.20px #374151;color:#374151;left:1207.2px;letter-spacing:-0.332px;">XLSX</span>
<span class="t" style="top:498.85px;font-size:14px;-webkit-text-stroke:0.22px #374151;color:#374151;left:1207.2px;letter-spacing:-0.081px;">Delivery Slip - Colleen Diaz - WH_OUT_00046.pdf</span>
<span class="t" style="top:520.26px;font-size:12.25px;-webkit-text-stroke:0.20px #374151;color:#374151;left:1207.2px;letter-spacing:-0.067px;">PDF</span>
<span class="t" style="top:553.55px;font-size:14px;-webkit-text-stroke:0.50px #017e84;color:#017e84;left:1471.2px;letter-spacing:0.435px;">Attach files</span>
<span class="t" style="top:611.45px;font-size:14px;-webkit-text-stroke:0.50px #525b6b;color:#525b6b;left:1480.7px;letter-spacing:0.388px;">Today</span>
<span class="t" style="top:646.85px;font-size:14px;font-weight:700;color:#2a3446;left:1211.1px;letter-spacing:0.075px;">OdooBot</span>
<span class="t" style="top:647.66px;font-size:12.25px;-webkit-text-stroke:0.20px #858b96;color:#858b96;left:1275.8px;letter-spacing:0.286px;">- 1 hour ago</span>
<span class="t" style="top:668.15px;font-size:14px;-webkit-text-stroke:0.22px #374151;color:#374151;left:1211.1px;letter-spacing:0.005px;">Sales Order created</span>
</aside>
</body></html>
